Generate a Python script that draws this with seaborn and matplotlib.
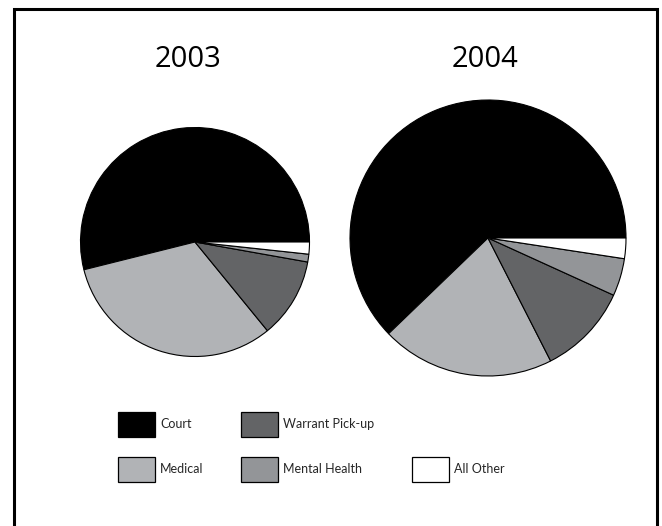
import matplotlib.pyplot as plt
import matplotlib.patches as mpatches
import seaborn as sns

years = ["2003", "2004"]
categories = ["Court", "Medical", "Warrant Pick-up", "Mental Health", "All Other"]
share_2003 = [53.9, 32.0, 11.3, 1.1, 1.7]
share_2004 = [62.2, 20.3, 10.7, 4.4, 2.4]
colors = ["#000000", "#b1b3b6", "#636466", "#939598", "#ffffff"]

sns.set_theme(style="white")
plt.rcParams["font.family"] = ["Lato", "DejaVu Sans"]

W, H = 662, 526
fig = plt.figure(figsize=(W / 100, H / 100), dpi=100)
ax = fig.add_axes([0, 0, 1, 1])

# pie layout in pixel units (y measured upward)
pies = [
    (share_2003, (195, H - 242), 114.5, (188, H - 67)),
    (share_2004, (488, H - 238), 138, (485, H - 67)),
]
for year, (vals, center, radius, title_xy) in zip(years, pies):
    ax.pie(vals, colors=colors, startangle=0, counterclock=True,
           center=center, radius=radius,
           wedgeprops=dict(edgecolor="black", linewidth=0.8))
    ax.text(*title_xy, year, ha="center", va="baseline", fontsize=21,
            color="black", family=["Open Sans", "DejaVu Sans"])

ax.set_xlim(0, W)
ax.set_ylim(0, H)
ax.set_aspect("equal")
ax.axis("off")

# legend: two rows, All Other alone in third column
handles = [mpatches.Patch(facecolor=c, edgecolor="black", linewidth=0.9) for c in colors]
blank = mpatches.Patch(visible=False)
order_h = [handles[0], handles[1], handles[2], handles[3], blank, handles[4]]
order_l = [categories[0], categories[1], categories[2], categories[3], "", categories[4]]
fig.legend(order_h, order_l, ncol=3, frameon=False, loc="upper left",
           bbox_to_anchor=(118 / W, 1 - 412 / H), bbox_transform=fig.transFigure,
           borderpad=0, borderaxespad=0, fontsize=9,
           handlelength=2.96, handleheight=2.7, handletextpad=0.4,
           labelspacing=1.6, columnspacing=3.0)

# outer frame (open at the bottom edge of the image)
fig.add_artist(mpatches.Rectangle((13.5 / W, -0.1), (657 - 13.5) / W, 1.1 - 8.5 / H,
                                  transform=fig.transFigure, fill=False,
                                  edgecolor="black", linewidth=2.2))

fig.savefig("out.png", dpi=100)
